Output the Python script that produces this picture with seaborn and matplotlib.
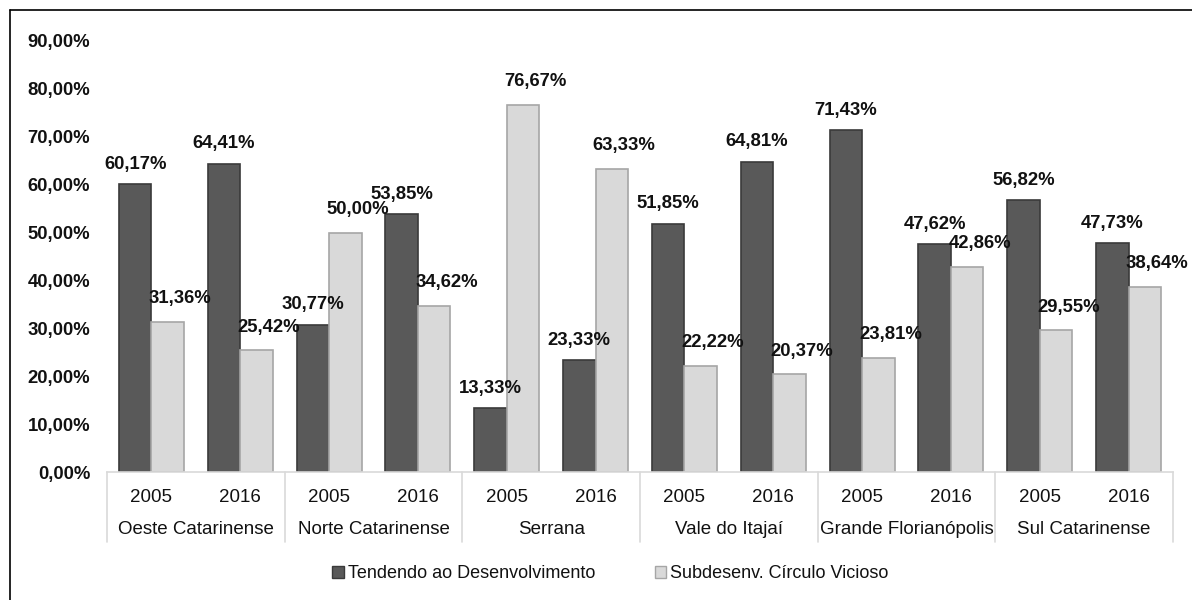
import matplotlib
matplotlib.use("Agg")
import matplotlib.pyplot as plt
import matplotlib.transforms as mtransforms
from matplotlib.patches import Patch
from matplotlib.lines import Line2D
import seaborn as sns
import pandas as pd

regions = ["Oeste Catarinense", "Norte Catarinense", "Serrana", "Vale do Itajaí",
           "Grande Florianópolis", "Sul Catarinense"]
years = ["2005", "2016"]
series_names = ["Tendendo ao Desenvolvimento", "Subdesenv. Círculo Vicioso"]
tendendo = [60.17, 64.41, 30.77, 53.85, 13.33, 23.33, 51.85, 64.81, 71.43, 47.62, 56.82, 47.73]
subdesenv = [31.36, 25.42, 50.00, 34.62, 76.67, 63.33, 22.22, 20.37, 23.81, 42.86, 29.55, 38.64]
y_ticks = [0, 10, 20, 30, 40, 50, 60, 70, 80, 90]

cats = [f"{r}|{y}" for r in regions for y in years]
rows = []
for name, vals in zip(series_names, [tendendo, subdesenv]):
    for c, v in zip(cats, vals):
        rows.append({"cat": c, "series": name, "value": v})
df = pd.DataFrame(rows)

sns.set_theme(style="white")
plt.rcParams["font.family"] = ["Liberation Sans", "DejaVu Sans"]

DARK, LIGHT = "#595959", "#d9d9d9"
DARK_E, LIGHT_E = "#3a3a3a", "#a6a6a6"

fig = plt.figure(figsize=(11.92, 6.0), dpi=100)
ax = fig.add_axes([107 / 1192, 1 - 472 / 600, (1173 - 107) / 1192, (472 - 41) / 600])

sns.barplot(data=df, x="cat", y="value", hue="series", order=cats, hue_order=series_names,
            palette=[DARK, LIGHT], width=0.73, gap=0, ax=ax, legend=False, saturation=1)

edge_cols = [DARK_E, LIGHT_E]
for ci, cont in enumerate(ax.containers):
    for bar in cont:
        bar.set_edgecolor(edge_cols[ci])
        bar.set_linewidth(1.2)
    vals = [tendendo, subdesenv][ci]
    for bar, v in zip(cont, vals):
        xc = bar.get_x() + bar.get_width() / 2
        dx = 0 if ci == 0 else 9
        dy = 11 if ci == 0 else 13.5
        ax.annotate(f"{v:.2f}".replace(".", ",") + "%", (xc, bar.get_height()),
                    xytext=(dx, dy), textcoords="offset points", ha="center", va="baseline",
                    fontsize=13.3, fontweight="bold", color="#111111")

ax.set_ylim(0, 90)
ax.set_xlim(-0.5, len(cats) - 0.5)
ax.set_yticks(y_ticks)
ax.set_yticklabels([f"{t:.2f}".replace(".", ",") + "%" for t in y_ticks],
                   fontsize=13.3, fontweight="bold", color="#111111")
ax.tick_params(axis="y", length=0, pad=12)
ax.set_xticks([])
ax.set_xlabel("")
ax.set_ylabel("")
for s in ["left", "top", "right"]:
    ax.spines[s].set_visible(False)
ax.spines["bottom"].set_color("#d9d9d9")
ax.spines["bottom"].set_linewidth(1.2)
ax.grid(False)

trans = mtransforms.blended_transform_factory(ax.transData, ax.transAxes)
ax_h = 472 - 41
for k in range(len(regions) + 1):
    xs = -0.5 + 2 * k
    ax.plot([xs, xs], [0, -(542 - 472) / ax_h], transform=trans, color="#d9d9d9",
            lw=1.2, clip_on=False)
for i, c in enumerate(cats):
    ax.text(i, -(497 - 472) / ax_h, c.split("|")[1], transform=trans, ha="center",
            va="center", fontsize=13.5, color="#111111")
for k, r in enumerate(regions):
    ax.text(2 * k + 0.5, -(530 - 472) / ax_h, r, transform=trans, ha="center",
            va="center", fontsize=13.5, color="#111111")

handles = [Patch(facecolor=DARK, edgecolor=DARK_E, lw=1.0),
           Patch(facecolor=LIGHT, edgecolor=LIGHT_E, lw=1.0)]
fig.legend(handles, series_names, loc="center", bbox_to_anchor=(0.512, 1 - 574 / 600),
           ncol=2, frameon=False, fontsize=13, handlelength=0.65, handleheight=0.65,
           handletextpad=0.2, columnspacing=3.3, labelcolor="#111111")

bx = 10 / 1192
by = 1 - 10 / 600
fig.add_artist(Line2D([bx, bx], [0, by], transform=fig.transFigure, color="black", lw=1.2))
fig.add_artist(Line2D([bx, 1], [by, by], transform=fig.transFigure, color="black", lw=1.2))

fig.savefig("out.png", dpi=100, facecolor="white")
